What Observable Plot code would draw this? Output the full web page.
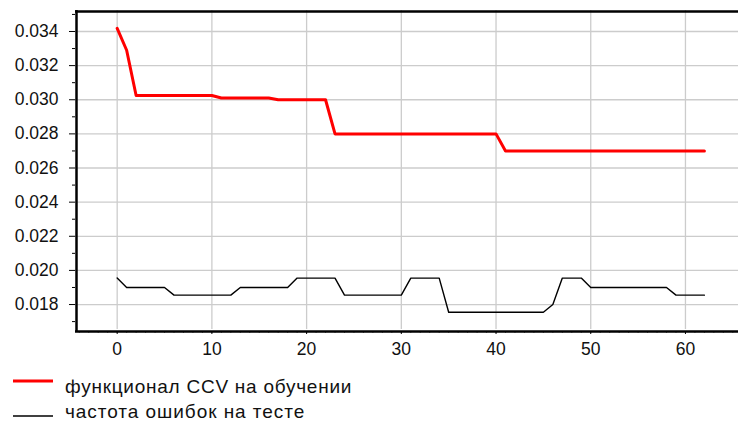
<!DOCTYPE html>
<html>
<head>
<meta charset="utf-8">
<script src="https://cdn.jsdelivr.net/npm/d3@7"></script>
<script src="https://cdn.jsdelivr.net/npm/@observablehq/plot@0.6"></script>
<style>
  html, body { margin: 0; padding: 0; background: #fff; }
  body { width: 738px; height: 427px; position: relative; overflow: hidden; font-family: "Liberation Sans", Arial, sans-serif; }
  #legend { position: absolute; left: 0; top: 362px; }
</style>
</head>
<body>
<div id="chart"></div>
<svg id="legend" width="738" height="65"></svg>
<script>
// Iteration number
const iterations = [0,1,2,3,4,5,6,7,8,9,10,11,12,13,14,15,16,17,18,19,20,21,22,23,24,25,26,27,28,29,30,31,32,33,34,35,36,37,38,39,40,41,42,43,44,45,46,47,48,49,50,51,52,53,54,55,56,57,58,59,60,61,62];

// функционал CCV на обучении
const ccvTrain = [
  0.03418, 0.0329,
  0.03025, 0.03025, 0.03025, 0.03025, 0.03025, 0.03025, 0.03025, 0.03025, 0.03025,
  0.0301, 0.0301, 0.0301, 0.0301, 0.0301, 0.0301,
  0.0300, 0.0300, 0.0300, 0.0300, 0.0300, 0.0300,
  0.0280, 0.0280, 0.0280, 0.0280, 0.0280, 0.0280, 0.0280, 0.0280, 0.0280, 0.0280, 0.0280, 0.0280, 0.0280, 0.0280, 0.0280, 0.0280, 0.0280, 0.0280,
  0.0270, 0.0270, 0.0270, 0.0270, 0.0270, 0.0270, 0.0270, 0.0270, 0.0270, 0.0270, 0.0270, 0.0270, 0.0270, 0.0270, 0.0270, 0.0270, 0.0270, 0.0270, 0.0270, 0.0270, 0.0270, 0.0270
];

// частота ошибок на тесте
const testError = [
  0.01955,
  0.0190, 0.0190, 0.0190, 0.0190, 0.0190,
  0.01855, 0.01855, 0.01855, 0.01855, 0.01855, 0.01855, 0.01855,
  0.0190, 0.0190, 0.0190, 0.0190, 0.0190, 0.0190,
  0.01955, 0.01955, 0.01955, 0.01955, 0.01955,
  0.01855, 0.01855, 0.01855, 0.01855, 0.01855, 0.01855, 0.01855,
  0.01955, 0.01955, 0.01955, 0.01955,
  0.01755, 0.01755, 0.01755, 0.01755, 0.01755, 0.01755, 0.01755, 0.01755, 0.01755, 0.01755, 0.01755,
  0.0180,
  0.01955, 0.01955, 0.01955,
  0.0190, 0.0190, 0.0190, 0.0190, 0.0190, 0.0190, 0.0190, 0.0190, 0.0190,
  0.01855, 0.01855, 0.01855, 0.01855
];

const seriesNames = ["функционал CCV на обучении", "частота ошибок на тесте"];
const seriesColors = ["#ff0000", "#000000"];
const seriesWidths = [3, 1.4];
const xTicks = [0, 10, 20, 30, 40, 50, 60];
const yTicks = [0.018, 0.020, 0.022, 0.024, 0.026, 0.028, 0.030, 0.032, 0.034];
const yMinorTicks = [0.017, 0.019, 0.021, 0.023, 0.025, 0.027, 0.029, 0.031, 0.033, 0.035];
const xMinorTicks = [-4,-3,-2,-1].concat(iterations, [63,64,65]);

const redData = iterations.map((x, i) => ({x, y: ccvTrain[i]}));
const blackData = iterations.map((x, i) => ({x, y: testError[i]}));

const xDomain = [-4.4, 65.6];
const yDomain = [0.01642, 0.03523];

const chart = Plot.plot({
  width: 738,
  height: 362,
  marginLeft: 75,
  marginRight: 0,
  marginTop: 10,
  marginBottom: 31,
  style: { fontFamily: "Liberation Sans, Arial, sans-serif", fontSize: "17.5px", color: "#111", background: "#fff" },
  x: { domain: xDomain, label: null },
  y: { domain: yDomain, label: null },
  marks: [
    Plot.gridX(xTicks, { stroke: "#cccccc", strokeOpacity: 1, strokeWidth: 1.3, y1: yDomain[0] + 0.00012, y2: yDomain[1] }),
    Plot.gridY(yTicks, { stroke: "#cccccc", strokeOpacity: 1, strokeWidth: 1.3 }),
    Plot.axisY(yMinorTicks.filter(v => v > yDomain[0] && v < yDomain[1]), { anchor: "left", tickSize: 3, tickFormat: () => "", stroke: "#000", label: null }),
    Plot.axisY(yTicks, { anchor: "left", tickSize: 6, tickPadding: 11, tickFormat: d3.format(".3f"), fontSize: 17.5, stroke: "#000", label: null }),
    Plot.axisX(xMinorTicks.filter(v => v > xDomain[0] && v < xDomain[1]), { anchor: "bottom", tickSize: 1.5, tickFormat: () => "", stroke: "#000", label: null }),
    Plot.axisX(xTicks, { anchor: "bottom", tickSize: 3, tickPadding: 8, fontSize: 17.5, stroke: "#000", label: null }),
    Plot.line(blackData, { x: "x", y: "y", stroke: seriesColors[1], strokeWidth: seriesWidths[1] }),
    Plot.line(redData, { x: "x", y: "y", stroke: seriesColors[0], strokeWidth: seriesWidths[0] }),
    Plot.ruleX([xDomain[0]], { stroke: "#000", strokeWidth: 2.5, dx: 1 }),
    Plot.ruleY([yDomain[1]], { stroke: "#000", strokeWidth: 2.5, dy: 1 }),
    Plot.ruleY([yDomain[0]], { stroke: "#000", strokeWidth: 2.5 })
  ]
});
document.getElementById("chart").appendChild(chart);

const legend = d3.select("#legend");
const lineY = [19, 54];
const baseY = [31.3, 56.3];
seriesNames.forEach((name, i) => {
  legend.append("line")
    .attr("x1", 13).attr("x2", 53).attr("y1", lineY[i]).attr("y2", lineY[i])
    .attr("stroke", seriesColors[i]).attr("stroke-width", seriesWidths[i]);
  legend.append("text")
    .attr("x", 65).attr("y", baseY[i])
    .attr("font-family", "Liberation Sans, Arial, sans-serif")
    .attr("font-size", 19)
    .attr("letter-spacing", i === 0 ? 0.75 : 0.95)
    .attr("fill", "#111")
    .text(name);
});
</script>
</body>
</html>
